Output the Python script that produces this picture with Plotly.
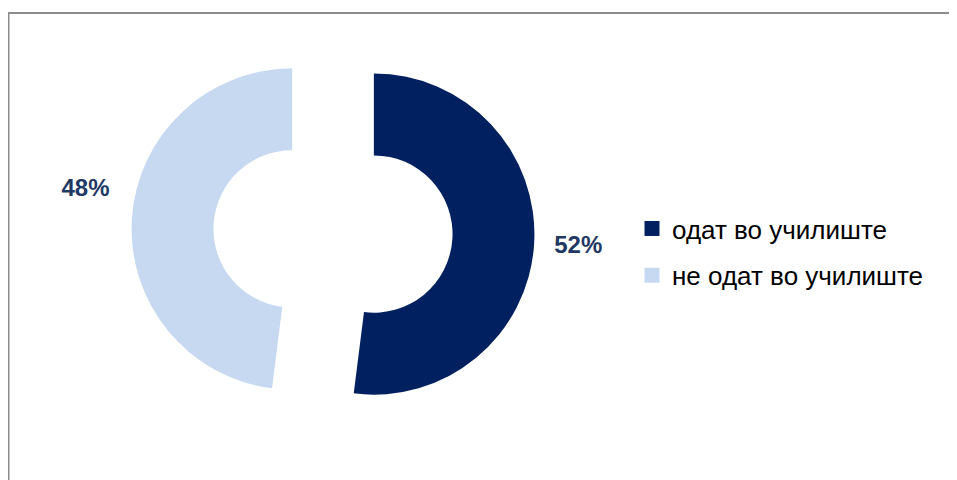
import plotly.graph_objects as go

labels = ["одат во училиште", "не одат во училиште"]
values = [52, 48]
colors = ["#002060", "#C6D9F1"]

# The page body adds an 8px offset; work in figure pixel coords.
W, H = 957, 480
MT, MB = 21.5, 54.5
PH = H - MT - MB

NB = "\u00a0"
text_templates = [NB * 2 + "%{percent:.0%}", "%{percent:.0%}<br> <br> "]

fig = go.Figure()
fig.add_trace(go.Pie(
    labels=labels, values=values, sort=False, direction="clockwise", rotation=0,
    hole=0.49, pull=[0.255, 0.255],
    marker=dict(colors=colors, line=dict(width=0)),
    texttemplate=text_templates, textposition="outside",
    outsidetextfont=dict(family="Liberation Sans", size=24, color="#1F3864", weight="bold"),
    showlegend=False, hoverinfo="label+percent",
    domain=dict(x=[0, 650 / W], y=[0, 1]),
))

for lab, col in zip(labels, colors):
    fig.add_trace(go.Scatter(
        x=[None], y=[None], mode="markers", name=lab, legendgroup=lab,
        marker=dict(symbol="square", size=15, color=col),
        showlegend=True,
    ))

fig.add_shape(type="rect", xref="paper", yref="paper",
              x0=0.5 / W, x1=1.2,
              y0=-0.5, y1=1 + (MT - 4.5) / PH,
              line=dict(color="#8C8C8C", width=2), fillcolor="rgba(0,0,0,0)")

fig.update_layout(
    width=W, height=H,
    margin=dict(l=0, r=0, t=MT, b=MB, autoexpand=False),
    paper_bgcolor="white", plot_bgcolor="white",
    xaxis=dict(visible=False), yaxis=dict(visible=False),
    legend=dict(
        x=624 / W, y=1 - (197 - MT) / PH, xref="paper", yref="paper",
        xanchor="left", yanchor="top",
        font=dict(family="Liberation Sans", size=26, color="#000000"),
        traceorder="grouped", tracegroupgap=10,
        bgcolor="rgba(0,0,0,0)", itemclick=False,
    ),
)

fig.write_html("out.html")
